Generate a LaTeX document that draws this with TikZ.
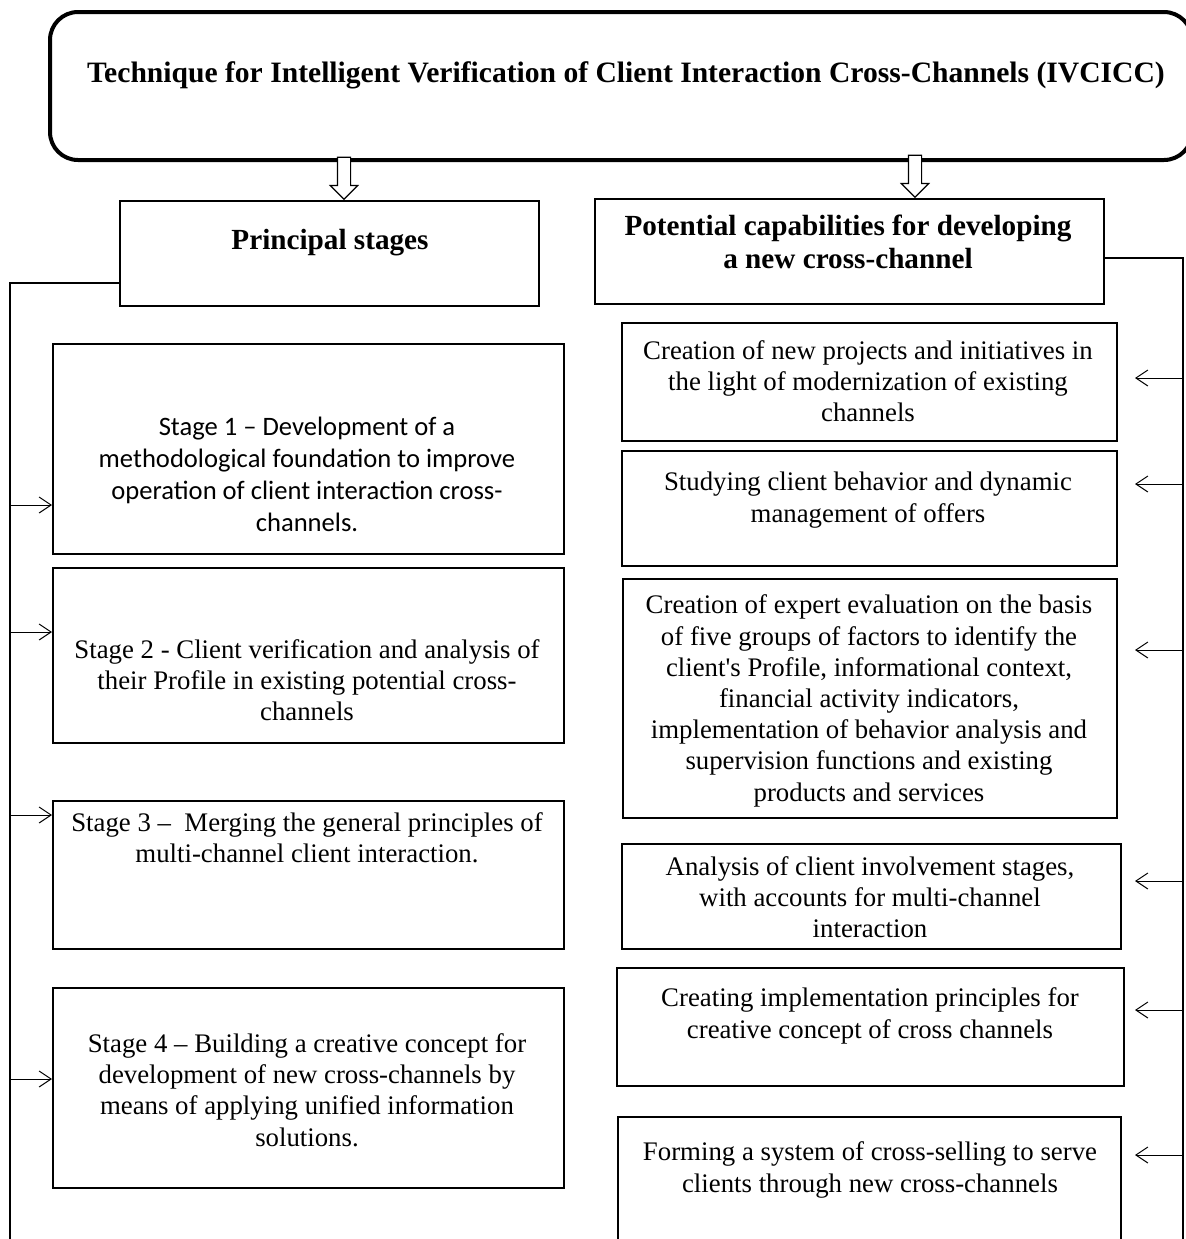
\documentclass[tikz,border=0pt]{standalone}
\usepackage{fontspec}
\setmainfont{Liberation Serif}
\newfontfamily\calibrifont{Carlito}
\usetikzlibrary{shapes.arrows,arrows.meta}

\begin{document}
\begin{tikzpicture}[
        x=0.5pt, y=-0.5pt,
        box/.style={draw, line width=0.9pt, rectangle, anchor=north west, inner sep=0pt},
        txt/.style={align=center, inner sep=0pt, font=\fontsize{13.4}{15.6}\selectfont},
        head/.style={align=center, inner sep=0pt, font=\fontsize{14.6}{16.5}\selectfont\bfseries},
        hollow/.style={draw, line width=0.6pt, fill=white, single arrow, shape border rotate=270,
            minimum height=21pt, inner sep=3pt, single arrow head extend=3.5pt, anchor=tip},
        feed/.style={line width=0.5pt, -{Straight Barb[length=6pt, width=8pt]}},
        bus/.style={line width=0.6pt}
    ]
    \useasboundingbox (0,0) rectangle (1186,1239);

    % title
    \node[box, rounded corners=14pt, line width=2pt, minimum width=571pt, minimum height=74pt] (ivc) at (48,10) {};
    \node[head, font=\fontsize{14.8}{16.5}\selectfont\bfseries] (ivct) at (626,75) {Technique for Intelligent Verification of Client Interaction Cross-Channels (IVCICC)};

    % two branches
    \node[box, minimum width=209.5pt, minimum height=52.5pt] (ps) at (119,200) {};
    \node[head] (pst) at (330,243) {Principal stages};
    \node[box, minimum width=254.5pt, minimum height=52.5pt] (pc) at (594,198) {};
    \node[head] (pct) at (848,242) {Potential capabilities for developing\\a new cross-channel};

    \node[hollow] (ar1) at (344,200) {};
    \node[hollow] (ar2) at (915,198) {};

    % stages
    \node[box, minimum width=255.5pt, minimum height=105pt] (s1) at (52,343) {};
    \node[txt, font=\fontsize{13.3}{16}\selectfont\calibrifont] (s1t) at (307,474) {Stage 1 – Development of a\\methodological foundation to improve\\operation of client interaction cross-\\channels.};
    \node[box, minimum width=255.5pt, minimum height=87.5pt] (s2) at (52,567) {};
    \node[txt] (s2t) at (307,680) {Stage 2 - Client verification and analysis of\\their Profile in existing potential cross-\\channels};
    \node[box, minimum width=255.5pt, minimum height=74pt] (s3) at (52,800) {};
    \node[txt] (s3t) at (307,838) {Stage 3 –\enspace Merging the general principles of\\multi-channel client interaction.};
    \node[box, minimum width=255.5pt, minimum height=100pt] (s4) at (52,987) {};
    \node[txt] (s4t) at (307,1090) {Stage 4 – Building a creative concept for\\development of new cross-channels by\\means of applying unified information\\solutions.};

    % capabilities
    \node[box, minimum width=247.5pt, minimum height=59pt] (r1) at (621,322) {};
    \node[txt] (r1t) at (868,381) {Creation of new projects and initiatives in\\the light of modernization of existing\\channels};
    \node[box, minimum width=247.5pt, minimum height=57.5pt] (r2) at (621,450) {};
    \node[txt] (r2t) at (868,500) {Studying client behavior and dynamic\\management of offers};
    \node[box, minimum width=247pt, minimum height=119.5pt] (r3) at (622,578) {};
    \node[txt] (r3t) at (869,701) {Creation of expert evaluation on the basis\\of five groups of factors to identify the\\client\textquotesingle s Profile, informational context,\\financial activity indicators,\\implementation of behavior analysis and\\supervision functions and existing\\products and services};
    \node[box, minimum width=249.5pt, minimum height=52.5pt] (r4) at (621,843) {};
    \node[txt] (r4t) at (870,897) {Analysis of client involvement stages,\\with accounts for multi-channel\\interaction};
    \node[box, minimum width=253.5pt, minimum height=59pt] (r5) at (616,967) {};
    \node[txt] (r5t) at (870,1016) {Creating implementation principles for\\creative concept of cross channels};
    \node[box, minimum width=251.5pt, minimum height=71pt] (r6) at (617,1116) {};
    \node[txt] (r6t) at (870,1170) {Forming a system of cross-selling to serve\\clients through new cross-channels};

    % left bus
    \coordinate (lb) at (10,283);
    \coordinate (lbend) at (10,1245);
    \draw[bus] (ps.west |- lb) -- (lb) -- (lbend);
    \coordinate (l1) at (10,505);
    \coordinate (l2) at (10,632);
    \coordinate (l3) at (10,815);
    \coordinate (l4) at (10,1079);
    \draw[feed] (l1) -- (l1 -| s1.west);
    \draw[feed] (l2) -- (l2 -| s2.west);
    \draw[feed] (l3) -- (l3 -| s3.west);
    \draw[feed] (l4) -- (l4 -| s4.west);

    % right bus
    \coordinate (rb) at (1183,258);
    \coordinate (rbend) at (1183,1245);
    \coordinate (rtip) at (1135,0);
    \draw[bus] (pc.east |- rb) -- (rb) -- (rbend);
    \coordinate (q1) at (1183,378);
    \coordinate (q2) at (1183,484);
    \coordinate (q3) at (1183,650);
    \coordinate (q4) at (1183,881);
    \coordinate (q5) at (1183,1010);
    \coordinate (q6) at (1183,1155);
    \draw[feed] (q1) -- (q1 -| rtip);
    \draw[feed] (q2) -- (q2 -| rtip);
    \draw[feed] (q3) -- (q3 -| rtip);
    \draw[feed] (q4) -- (q4 -| rtip);
    \draw[feed] (q5) -- (q5 -| rtip);
    \draw[feed] (q6) -- (q6 -| rtip);
\end{tikzpicture}
\end{document}
